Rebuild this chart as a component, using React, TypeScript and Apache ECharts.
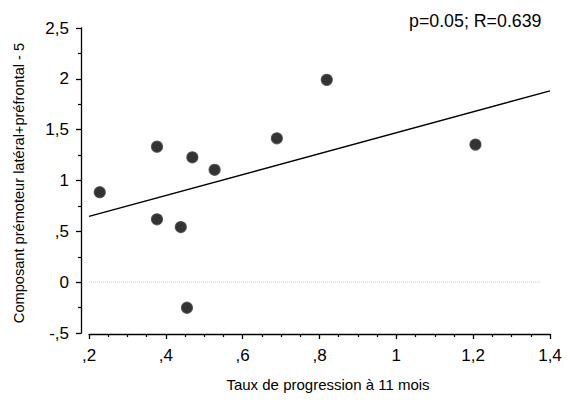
import React, { useEffect, useRef } from "react";
import * as echarts from "echarts";

const pointsX = [0.228, 0.377, 0.469, 0.377, 0.439, 0.455, 0.527, 0.689, 0.819, 1.206];
const pointsY = [0.885, 1.333, 1.228, 0.618, 0.542, -0.252, 1.105, 1.415, 1.99, 1.353];
const fitX = [0.2, 1.4];
const fitY = [0.647, 1.882];
const zeroX = [0.2, 1.375];
const zeroY = [0, 0];
const xTickValues = [0.2, 0.4, 0.6, 0.8, 1, 1.2, 1.4];
const xTickLabels = [",2", ",4", ",6", ",8", "1", "1,2", "1,4"];
const yTickValues = [-0.5, 0, 0.5, 1, 1.5, 2, 2.5];
const yTickLabels = ["-,5", "0", ",5", "1", "1,5", "2", "2,5"];
const titleText = "p=0.05; R=0.639";
const xName = "Taux de progression à 11 mois";
const yName = "Composant prémoteur latéral+préfrontal - 5";

const FONT = "'Liberation Sans', Arial, sans-serif";

function labelFor(values: number[], labels: string[], v: number) {
  for (let i = 0; i < values.length; i++) {
    if (Math.abs(values[i] - v) < 1e-6) return labels[i];
  }
  return "";
}

export default function App() {
  const ref = useRef<HTMLDivElement>(null);
  useEffect(() => {
    if (!ref.current) return;
    const chart = echarts.init(ref.current, undefined, { renderer: "svg" });
    const axisLine = { show: true, onZero: false, lineStyle: { color: "#000", width: 1.3 } };
    chart.setOption({
      animation: false,
      backgroundColor: "#fff",
      grid: { left: 89, right: 17, top: 28, bottom: 68 },
      xAxis: {
        type: "value",
        min: 0.2,
        max: 1.4,
        interval: 0.2,
        offset: 1,
        axisLine,
        axisTick: { show: true, length: 5, lineStyle: { color: "#000", width: 1.3 } },
        minorTick: { show: true, splitNumber: 4, length: 3, lineStyle: { color: "#000", width: 1.2 } },
        splitLine: { show: false },
        axisLabel: {
          color: "#000",
          fontSize: 17,
          fontFamily: FONT,
          margin: 13,
          formatter: (v: number) => labelFor(xTickValues, xTickLabels, v),
        },
      },
      yAxis: {
        type: "value",
        min: -0.5,
        max: 2.5,
        interval: 0.5,
        offset: 8,
        axisLine,
        axisTick: { show: true, length: 5, lineStyle: { color: "#000", width: 1.3 } },
        minorTick: { show: true, splitNumber: 2, length: 3, lineStyle: { color: "#000", width: 1.2 } },
        splitLine: { show: false },
        axisLabel: {
          color: "#000",
          fontSize: 17,
          fontFamily: FONT,
          margin: 12,
          formatter: (v: number) => labelFor(yTickValues, yTickLabels, v),
        },
      },
      graphic: [
        {
          type: "text",
          x: 409,
          y: 21,
          style: { text: titleText, fontSize: 17.8, fontFamily: FONT, fill: "#000", verticalAlign: "middle" },
        },
        {
          type: "text",
          x: 328,
          y: 384,
          style: {
            text: xName,
            fontSize: 15,
            fontFamily: FONT,
            fill: "#000",
            align: "center",
            verticalAlign: "middle",
          },
        },
        {
          type: "text",
          x: 19,
          y: 183,
          rotation: Math.PI / 2,
          style: {
            text: yName,
            fontSize: 14.6,
            fontFamily: FONT,
            fill: "#000",
            align: "center",
            verticalAlign: "middle",
          },
        },
      ],
      series: [
        {
          type: "line",
          data: zeroX.map((x, i) => [x, zeroY[i]]),
          symbol: "none",
          lineStyle: { color: "#c8c8c8", width: 1, type: "dotted" },
          silent: true,
        },
        {
          type: "line",
          data: fitX.map((x, i) => [x, fitY[i]]),
          symbol: "none",
          lineStyle: { color: "#000", width: 1.4 },
          silent: true,
        },
        {
          type: "scatter",
          data: pointsX.map((x, i) => [x, pointsY[i]]),
          symbol: "circle",
          symbolSize: 11,
          itemStyle: { color: "#000", borderColor: "#444", borderWidth: 1.2 },
        },
      ],
    });
    return () => chart.dispose();
  }, []);
  return (
    <div
      ref={ref}
      style={{ position: "fixed", left: 0, top: 0, width: 567, height: 401 }}
    />
  );
}
